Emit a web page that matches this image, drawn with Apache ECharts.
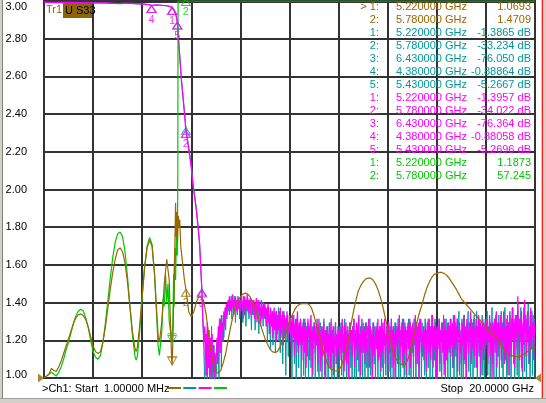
<!DOCTYPE html>
<html><head><meta charset="utf-8">
<script src="https://cdn.jsdelivr.net/npm/echarts@6/dist/echarts.min.js"></script>
<style>html,body{margin:0;padding:0;background:#fff;overflow:hidden}#c{width:546px;height:403px}</style>
</head><body><div id="c"></div>
<script>
// ---------- axis scales ----------
const VSWR_MIN = 1.0, VSWR_MAX = 3.0, VSWR_STEP = 0.2;
const DB_MIN = -99.7, DB_MAX = 0.3;           // S-parameter (dB) trace scale, 10 dB/div
const F_MIN = 0, F_MAX = 20, F_STEP = 2;      // GHz

// ---------- trace 1 (brown, VSWR) ----------
const brownFreq = [0.001,0.1,0.2,0.3,0.4,0.45,0.5,0.6,0.7,0.8,0.9,1.0,1.1,1.2,1.3,1.4,1.5,1.6,1.7,1.8,1.9,2.0,2.1,2.2,2.3,2.4,2.5,2.6,2.7,2.8,2.9,3.0,3.1,3.2,3.3,3.4,3.5,3.6,3.7,3.75,3.8,3.9,4.0,4.1,4.2,4.3,4.4,4.5,4.6,4.65,4.7,4.8,4.9,5.0,5.05,5.1,5.15,5.2,5.22,5.26,5.3,5.33,5.36,5.38,5.41,5.44,5.47,5.5,5.53,5.57,5.62,5.66,5.72,5.78,5.85,5.9,6.0,6.1,6.2,6.3,6.4,6.5,6.6,6.7,6.8,6.9,7.0,7.1,7.2,7.3,7.4,7.5,7.6,7.7,7.8,7.9,8.0,8.1,8.2,8.3,8.4,8.5,8.6,8.7,8.8,8.9,9.0,9.1,9.2,9.3,9.4,9.5,9.6,9.7,9.8,9.9,10.0,10.1,10.2,10.3,10.4,10.5,10.7,10.8,10.9,11.0,11.1,11.2,11.3,11.4,11.5,11.6,11.7,11.8,11.9,12.0,12.1,12.2,12.3,12.4,12.5,12.6,12.7,12.8,12.9,13.0,13.1,13.2,13.3,13.4,13.5,13.6,13.7,13.8,13.9,14.0,14.1,14.2,14.3,14.4,14.5,14.6,14.7,14.8,14.9,15.0,15.1,15.2,15.3,15.4,15.5,15.6,15.7,15.8,15.9,16.0,16.1,16.2,16.3,16.4,16.5,16.6,16.7,16.8,16.9,17.0,17.2,17.4,17.6,17.8,18.0,18.2,18.4,18.6,18.8,19.0,19.2,19.4,19.6,19.8,20.0];
const brownVswr = [1.00,1.01,1.02,1.05,1.04,1.03,1.035,1.06,1.09,1.13,1.17,1.21,1.25,1.29,1.32,1.335,1.34,1.33,1.31,1.27,1.22,1.17,1.14,1.13,1.14,1.19,1.27,1.37,1.47,1.56,1.63,1.68,1.69,1.67,1.61,1.51,1.38,1.25,1.16,1.14,1.16,1.28,1.44,1.59,1.69,1.73,1.70,1.56,1.33,1.22,1.19,1.30,1.50,1.63,1.64,1.52,1.30,1.10,1.0693,1.25,1.55,1.70,1.93,1.75,1.88,1.72,1.86,1.80,1.84,1.70,1.64,1.59,1.52,1.4709,1.40,1.35,1.325,1.35,1.40,1.43,1.43,1.41,1.34,1.24,1.14,1.07,1.035,1.025,1.04,1.08,1.13,1.20,1.27,1.33,1.38,1.41,1.43,1.445,1.45,1.445,1.43,1.40,1.37,1.33,1.29,1.25,1.21,1.18,1.155,1.14,1.135,1.14,1.16,1.19,1.22,1.26,1.30,1.33,1.36,1.38,1.39,1.395,1.395,1.39,1.37,1.33,1.28,1.23,1.18,1.13,1.09,1.06,1.045,1.04,1.037,1.04,1.06,1.10,1.15,1.21,1.28,1.35,1.41,1.46,1.49,1.51,1.525,1.53,1.53,1.52,1.50,1.47,1.43,1.38,1.32,1.26,1.20,1.15,1.11,1.09,1.075,1.07,1.07,1.09,1.13,1.19,1.25,1.30,1.35,1.39,1.44,1.48,1.51,1.535,1.55,1.555,1.56,1.56,1.555,1.545,1.53,1.51,1.49,1.47,1.445,1.42,1.39,1.36,1.33,1.30,1.27,1.24,1.22,1.18,1.14,1.12,1.113,1.115,1.13,1.15,1.17];

// ---------- trace 4 (green, VSWR) ----------
const greenFreq = [0.001,0.1,0.2,0.3,0.4,0.45,0.5,0.6,0.7,0.8,0.9,1.0,1.1,1.2,1.3,1.4,1.5,1.6,1.7,1.8,1.9,2.0,2.1,2.2,2.3,2.4,2.5,2.6,2.7,2.8,2.9,3.0,3.1,3.2,3.3,3.4,3.5,3.6,3.7,3.75,3.8,3.9,4.0,4.1,4.2,4.3,4.4,4.5,4.6,4.65,4.7,4.75,4.8,4.85,4.9,4.95,5.0,5.05,5.1,5.15,5.2,5.22,5.25,5.28,5.3,5.33,5.36,5.4,5.43,5.45,5.46,5.5,5.6,5.78,6.0,6.5,8.0,10.0,12.0,14.0,16.0,18.0,20.0];
const greenVswr = [1.00,1.01,1.02,1.03,1.02,1.01,1.01,1.03,1.06,1.10,1.15,1.19,1.24,1.29,1.33,1.355,1.365,1.355,1.32,1.27,1.20,1.14,1.11,1.10,1.12,1.19,1.29,1.41,1.53,1.64,1.72,1.765,1.775,1.75,1.67,1.54,1.38,1.23,1.12,1.095,1.11,1.25,1.43,1.59,1.70,1.745,1.71,1.55,1.30,1.17,1.12,1.13,1.25,1.42,1.38,1.55,1.40,1.50,1.30,1.25,1.19,1.1873,1.30,1.55,1.38,1.69,1.52,1.80,1.65,2.05,3.5,9.0,25.0,57.245,70.0,80.0,90.0,95.0,90.0,95.0,90.0,85.0,90.0];

// ---------- traces 2 and 3 (teal / magenta, dB) ----------
const passFreq = [0.001,0.5,1,1.5,2,2.5,2.9,3.1,3.3,3.6,4.0,4.2,4.38,4.6,4.8,5.0,5.1,5.22,5.3,5.38,5.43,5.5,5.6,5.7,5.78,5.86,5.93,6.0,6.07,6.14,6.21,6.28,6.34,6.38,6.43,6.46,6.5];
const tealPass = [-0.05,-0.12,-0.1,-0.18,-0.2,-0.25,-0.4,-0.35,-0.35,-0.4,-0.5,-0.62,-0.88864,-0.78,-0.85,-0.98,-1.1,-1.3865,-2.1,-3.5,-5.2667,-11.5,-20.5,-27.5,-33.234,-37,-40,-43.5,-48,-51.5,-55,-59.5,-64,-69.5,-76.050,-83,-90];
const magentaPass = [-0.05,-0.1,-0.1,-0.15,-0.2,-0.2,-0.35,-0.4,-0.3,-0.35,-0.5,-0.6,-0.88058,-0.75,-0.85,-0.95,-1.1,-1.3957,-2.2,-3.6,-5.2696,-12,-21,-28,-34.022,-37.5,-40.5,-44,-48.5,-52,-55.5,-60,-64.5,-70,-76.364,-82,-88];
// stop-band noise: sweep points from 6.525 GHz to 20 GHz every 0.025 GHz (20 points per row = 0.5 GHz)
const NOISE_START = 6.525, NOISE_STEP = 0.025;
const tealNoise = [
-96,-101,-89,-99,-92,-103,-88,-97,-94,-102,-90,-99,-86,-101,-93,-98,-91,-103,-95,-100,
-98,-91,-95,-88,-100,-86,-93,-84,-97,-87,-90,-83,-89,-85,-82,-87,-81,-84,-80,-82,
-80,-83,-79,-81,-78,-84,-80,-79,-82,-78,-81,-85,-79,-80,-83,-78,-81,-79,-84,-80,
-82,-79,-80,-85,-78,-81,-83,-79,-86,-80,-82,-78.5,-81,-84,-80,-79,-82,-87,-80,-83,
-79,-83,-81,-87,-80,-82,-79,-84,-81,-88,-80,-83,-85,-79,-82,-81,-86,-80,-84,-82,
-82,-86,-83,-90,-84,-81,-88,-85,-92,-83,-86,-82,-91,-84,-87,-83,-93,-85,-82,-88,
-86,-81,-90,-84,-93,-83,-88,-85,-96,-84,-82,-89,-86,-99,-84,-88,-83,-94,-86,-85,
-84,-90,-86,-101,-85,-88,-83,-96,-89,-86,-102,-84,-91,-87,-97,-85,-89,-84,-100,-88,
-91,-85,-99,-87,-84,-102,-89,-86,-94,-85,-101,-88,-90,-84,-97,-87,-103,-86,-92,-85,
-88,-101,-86,-90,-84,-98,-87,-102,-89,-85,-95,-86,-101,-88,-91,-84,-99,-87,-103,-89,
-86,-93,-102,-88,-85,-97,-89,-84,-101,-87,-92,-86,-103,-88,-85,-96,-90,-101,-86,-89,
-101,-87,-91,-85,-99,-88,-86,-103,-89,-84,-95,-87,-102,-90,-86,-93,-101,-85,-89,-97,
-88,-102,-86,-90,-84,-100,-87,-93,-103,-86,-89,-85,-98,-88,-101,-86,-91,-84,-102,-87,
-93,-86,-101,-88,-85,-97,-89,-103,-86,-90,-84,-99,-87,-92,-102,-85,-88,-96,-86,-101,
-87,-90,-85,-102,-88,-94,-86,-100,-89,-84,-97,-87,-103,-85,-91,-88,-99,-86,-90,-101,
-85,-98,-88,-86,-102,-84,-91,-87,-100,-86,-93,-85,-103,-89,-86,-96,-84,-101,-88,-90,
-102,-86,-89,-84,-97,-88,-101,-85,-92,-87,-103,-86,-90,-84,-99,-88,-85,-102,-87,-93,
-86,-100,-84,-91,-88,-103,-85,-89,-96,-86,-101,-84,-90,-87,-102,-85,-94,-88,-86,-99,
-84,-92,-102,-87,-85,-97,-89,-84,-101,-86,-90,-83,-103,-88,-86,-95,-84,-100,-87,-91,
-103,-86,-89,-84,-98,-87,-92,-101,-85,-88,-83,-96,-86,-102,-84,-90,-87,-100,-85,-93,
-86,-101,-84,-90,-87,-97,-83,-102,-88,-85,-94,-86,-103,-84,-89,-82,-99,-87,-91,-101,
-84,-89,-100,-86,-83,-96,-88,-102,-85,-90,-82,-98,-86,-87,-103,-84,-91,-85,-101,-88,
-83,-97,-86,-89,-82,-102,-87,-85,-94,-84,-101,-86,-90,-83,-99,-87,-85,-103,-84,-91,
-88,-82,-99,-86,-90,-84,-102,-85,-88,-81,-96,-87,-101,-84,-89,-83,-103,-86,-85,-94,
-83,-100,-86,-89,-82,-97,-85,-101,-84,-88,-81,-95,-86,-102,-83,-90,-85,-99,-82,-87,
-101,-84,-88,-81,-96,-86,-103,-83,-89,-85,-99,-82,-87,-100,-84,-90,-81,-97,-86,-102,
-85,-81,-98,-87,-83,-101,-84,-89,-80,-96,-86,-102,-83,-88,-82,-99,-85,-90,-84,-100];
const magentaNoise = [
-90,-86,-95,-88,-99,-85,-92,-97,-87,-101,-89,-94,-100,-88,-96,-91,-102,-93,-98,-95,
-92,-89,-96,-86,-91,-84,-88,-93,-83,-87,-85,-90,-82,-86,-81,-84,-80,-83,-81,-79,
-81,-78,-80,-82,-79,-81,-77.5,-80,-83,-79,-80.5,-78,-82,-80,-79,-81.5,-78.5,-80,-83,-79,
-80,-78,-81,-79.5,-84,-80,-78,-82,-79,-81,-77.5,-80,-82.5,-79,-81,-78.5,-83,-80,-79,-81,
-82,-79,-84,-80,-81,-78.5,-85,-80.5,-82,-79,-83,-81,-86,-80,-82,-84,-79.5,-81,-83,-80,
-84,-81,-86,-82,-80,-85,-83,-88,-81,-84,-86,-82,-89,-83,-81,-87,-84,-82,-90,-85,
-83,-87,-82,-85,-81,-89,-84,-86,-82,-91,-85,-83,-88,-84,-86,-82,-90,-85,-87,-83,
-88,-84,-92,-86,-83,-89,-85,-94,-87,-84,-90,-86,-82,-93,-88,-85,-91,-84,-87,-95,
-86,-90,-84,-93,-88,-85,-97,-87,-91,-84,-89,-86,-95,-88,-83,-92,-87,-99,-86,-90,
-85,-93,-88,-91,-86,-96,-89,-84,-92,-87,-98,-90,-86,-94,-88,-85,-91,-100,-87,-93,
-89,-86,-95,-88,-92,-85,-97,-90,-87,-93,-86,-99,-89,-91,-85,-94,-88,-96,-87,-90,
-92,-86,-89,-95,-87,-84,-93,-88,-98,-86,-91,-85,-96,-89,-87,-100,-88,-92,-85,-90,
-87,-94,-86,-90,-84,-97,-88,-92,-85,-89,-95,-87,-83,-91,-88,-99,-86,-93,-89,-85,
-91,-87,-96,-85,-89,-93,-86,-88,-84,-97,-90,-86,-92,-88,-101,-87,-85,-94,-89,-91,
-86,-92,-88,-84,-95,-87,-90,-86,-98,-89,-85,-93,-87,-91,-84,-96,-88,-90,-86,-99,
-88,-85,-93,-87,-90,-84,-97,-89,-86,-92,-88,-100,-85,-91,-87,-94,-86,-89,-83,-95,
-87,-91,-85,-96,-88,-84,-93,-89,-86,-99,-87,-90,-85,-92,-88,-84,-97,-86,-91,-88,
-85,-94,-87,-90,-83,-96,-88,-86,-92,-85,-100,-89,-87,-84,-93,-88,-91,-86,-95,-87,
-90,-85,-98,-87,-89,-84,-93,-88,-86,-95,-87,-91,-83,-97,-89,-86,-92,-85,-101,-88,
-86,-92,-88,-84,-96,-87,-90,-85,-93,-89,-86,-99,-84,-91,-87,-95,-88,-85,-92,-86,
-89,-84,-94,-87,-91,-85,-97,-88,-83,-92,-86,-90,-84,-98,-87,-89,-85,-93,-88,-96,
-85,-91,-87,-83,-95,-88,-86,-100,-84,-90,-87,-93,-85,-89,-82,-96,-88,-86,-92,-84,
-94,-87,-90,-84,-97,-86,-89,-83,-93,-88,-85,-99,-87,-91,-84,-95,-88,-86,-92,-85,
-90,-84,-96,-87,-89,-83,-94,-88,-86,-101,-85,-91,-87,-84,-93,-88,-82,-97,-86,-90,
-85,-92,-87,-83,-95,-88,-86,-90,-82,-96,-87,-89,-84,-93,-86,-99,-85,-91,-83,-88,
-94,-86,-81,-90,-87,-84,-97,-85,-89,-83,-92,-78,-88,-86,-95,-84,-90,-82,-98,-87,
-85,-91,-79,-88,-84,-94,-86,-82,-90,-87,-96,-84,-81,-92,-86,-89,-83,-95,-85,-88];

// ---------- markers (GHz, value) ----------
const brownMarkers   = [[5.22, 1.0693], [5.78, 1.4709]];
const tealMarkers    = [[5.22, -1.3865], [5.78, -33.234], [6.43, -76.050], [4.38, -0.88864], [5.43, -5.2667]];
const magentaMarkers = [[5.22, -1.3957], [5.78, -34.022], [6.43, -76.364], [4.38, -0.88058], [5.43, -5.2696]];
const greenMarkers   = [[5.22, 1.1873], [5.78, 57.245]];

// ---------- texts ----------
const traceLabel = 'Tr1', traceName = 'U S33';
const startText = '>Ch1: Start  1.00000 MHz';
const stopText = 'Stop  20.0000 GHz';

const C_BROWN = '#996600', C_TEAL = '#009999', C_MAG = '#ff00ff', C_GREEN = '#00c800';
const C_GRID = '#333333';
const FONT = 'Liberation Sans, Arial, sans-serif';

const clampV = v => Math.min(v, VSWR_MAX); // instrument pins off-scale trace to top edge
const pairs = (fs, vs) => fs.map((f, i) => [f, vs[i]]);
const noisePairs = vs => vs.map((v, i) => [+(NOISE_START + i * NOISE_STEP).toFixed(3), v]);

const chart = echarts.init(document.getElementById('c'), null, {renderer: 'canvas'});

function markerSeries(data, color, yIdx, numbers, extra) {
  return Object.assign({
    type: 'scatter', yAxisIndex: yIdx, z: 5, silent: true,
    symbol: 'triangle', symbolSize: [9, 7], symbolOffset: [0, '50%'],
    itemStyle: {color: 'rgba(0,0,0,0)', borderColor: color, borderWidth: 1},
    label: {show: true, position: 'bottom', distance: 1, color: color, fontSize: 11, fontFamily: FONT,
      formatter: p => String(numbers[p.dataIndex])},
    data: data
  }, extra || {});
}

// marker table rows
const fmtF = f => f.toFixed(6) + ' GHz';
const rows = [];
brownMarkers.forEach((m, i) => rows.push({n: (i === 0 ? '> ' : '') + (i + 1) + ':', f: fmtF(m[0]), v: m[1].toPrecision(5), c: C_BROWN}));
tealMarkers.forEach((m, i) => rows.push({n: (i + 1) + ':', f: fmtF(m[0]), v: m[1].toPrecision(5) + ' dB', c: C_TEAL}));
magentaMarkers.forEach((m, i) => rows.push({n: (i + 1) + ':', f: fmtF(m[0]), v: m[1].toPrecision(5) + ' dB', c: C_MAG}));
greenMarkers.forEach((m, i) => rows.push({n: (i + 1) + ':', f: fmtF(m[0]), v: m[1].toPrecision(5), c: C_GREEN}));

const graphics = [];
const txt = (x, y, text, color, align) => ({type: 'text', x: x, y: y, z: 100, silent: true,
  style: {text: text, fill: color, font: '11px ' + FONT, align: align || 'left', verticalAlign: 'middle'}});
rows.forEach((r, i) => {
  const y = 7 + i * 13.02;
  graphics.push(txt(379, y, r.n, r.c, 'right'));
  graphics.push(txt(396, y, r.f, r.c, 'left'));
  graphics.push(txt(531, y, r.v, r.c, 'right'));
});
// trace title
graphics.push(txt(46, 10, traceLabel, C_BROWN, 'left'));
graphics.push({type: 'rect', z: 99, shape: {x: 63, y: 3, width: 29, height: 15}, style: {fill: '#8b6508'}});
graphics.push(txt(65, 10.5, traceName, '#000', 'left'));
// footer
graphics.push(txt(42, 389, startText, '#000', 'left'));
[C_BROWN, C_TEAL, C_MAG, C_GREEN].forEach((c, i) => graphics.push({type: 'line', z: 100,
  shape: {x1: 168 + i * 15.3, y1: 388, x2: 181 + i * 15.3, y2: 388}, style: {stroke: c, lineWidth: 2}}));
graphics.push(txt(534, 389, stopText, '#000', 'right'));
// window frame
graphics.push({type: 'rect', z: 90, shape: {x: 0, y: 0, width: 2, height: 403}, style: {fill: '#d4d0c8'}});
graphics.push({type: 'line', z: 90, shape: {x1: 2.5, y1: 0, x2: 2.5, y2: 398}, style: {stroke: '#808080', lineWidth: 1}});
graphics.push({type: 'rect', z: 90, shape: {x: 0, y: 398, width: 546, height: 5}, style: {fill: '#d4d0c8'}});
graphics.push({type: 'line', z: 91, shape: {x1: 0, y1: 398.5, x2: 546, y2: 398.5}, style: {stroke: '#a0a0a0', lineWidth: 1}});
graphics.push({type: 'rect', z: 90, shape: {x: 543, y: 0, width: 3, height: 403}, style: {fill: '#d4d0c8'}});
graphics.push({type: 'line', z: 91, shape: {x1: 542.3, y1: 0, x2: 542.3, y2: 398}, style: {stroke: '#ff0000', lineWidth: 1.2}});

const lineBase = {type: 'line', showSymbol: false, symbol: 'none', silent: true, animation: false, clip: true};

chart.setOption({
  animation: false,
  backgroundColor: '#ffffff',
  textStyle: {fontFamily: FONT},
  grid: {left: 44, right: 11, top: 1, bottom: 25, show: true, borderColor: C_GRID, borderWidth: 2, backgroundColor: '#fff'},
  xAxis: {type: 'value', min: F_MIN, max: F_MAX, interval: F_STEP,
    axisLabel: {show: false}, axisTick: {show: false},
    axisLine: {show: true, lineStyle: {color: C_GRID, width: 2}},
    splitLine: {show: true, lineStyle: {color: C_GRID, width: 2}}},
  yAxis: [
    {type: 'value', min: VSWR_MIN, max: VSWR_MAX, interval: VSWR_STEP,
      axisTick: {show: false}, axisLine: {show: true, lineStyle: {color: C_GRID, width: 2}},
      splitLine: {show: true, lineStyle: {color: C_GRID, width: 2}},
      axisLabel: {margin: 17, color: '#000', fontSize: 11, fontFamily: FONT,
        formatter: v => {
          const s = v.toFixed(2);
          if (Math.abs(v - VSWR_MAX) < 1e-6) return '{top|' + s + '}';
          if (Math.abs(v - VSWR_MIN) < 1e-6) return '{bot|' + s + '}';
          return s;
        },
        rich: {top: {padding: [12, 0, 0, 0], fontSize: 11, fontFamily: FONT, color: '#000'},
               bot: {padding: [0, 0, 7, 0], fontSize: 11, fontFamily: FONT, color: '#000'}}}},
    {type: 'value', min: DB_MIN, max: DB_MAX, show: false, splitLine: {show: false}}
  ],
  graphic: graphics,
  series: [
    Object.assign({}, lineBase, {name: 'S-teal', yAxisIndex: 1, z: 2,
      lineStyle: {color: C_TEAL, width: 1}, data: pairs(passFreq, tealPass).concat(noisePairs(tealNoise))}),
    Object.assign({}, lineBase, {name: 'S-magenta', yAxisIndex: 1, z: 2,
      lineStyle: {color: C_MAG, width: 1.3}, data: pairs(passFreq, magentaPass).concat(noisePairs(magentaNoise))}),
    Object.assign({}, lineBase, {name: 'VSWR-green', yAxisIndex: 0, z: 3,
      lineStyle: {color: C_GREEN, width: 1.2}, data: pairs(greenFreq, greenVswr.map(clampV))}),
    Object.assign({}, lineBase, {name: 'VSWR-brown', yAxisIndex: 0, z: 3,
      lineStyle: {color: C_BROWN, width: 1.2}, data: pairs(brownFreq, brownVswr)}),
    // markers (teal markers sit underneath the magenta ones)
    markerSeries(tealMarkers, C_TEAL, 1, [1, 2, 3, 4, 5], {z: 4, label: {show: false}}),
    markerSeries(magentaMarkers, C_MAG, 1, [1, 2, 3, 4, 5], {z: 5,
      itemStyle: {color: 'rgba(0,0,0,0)', borderColor: C_MAG, borderWidth: 1.3}}),
    markerSeries([{value: [greenMarkers[0][0], greenMarkers[0][1]],
                   symbol: 'path://M0,0 L10,0 M0,2 L10,2 L5,10 Z', symbolSize: [9, 9], symbolOffset: [0, '-50%'],
                   label: {show: false}},
                  {value: [greenMarkers[1][0], clampV(greenMarkers[1][1])], symbolOffset: [0, 1]}],
                 C_GREEN, 0, [1, 2]),
    markerSeries([{value: brownMarkers[0],
                   symbol: 'path://M5,0 L5,10 M0,10 L10,10 L5,18 Z', symbolSize: [9, 18], symbolOffset: [0, '-50%'],
                   label: {show: false}},
                  {value: brownMarkers[1]}],
                 C_BROWN, 0, [1, 2]),
    // reference level indicators
    {type: 'scatter', yAxisIndex: 0, silent: true, clip: false, z: 6, symbol: 'triangle', symbolSize: [9, 6],
      itemStyle: {color: C_BROWN},
      data: [{value: [F_MIN, VSWR_MIN], symbolRotate: -90, symbolOffset: [-3, 0]},
             {value: [F_MAX, VSWR_MIN], symbolRotate: 90, symbolOffset: [3, 0]}]}
  ]
});
</script></body></html>
